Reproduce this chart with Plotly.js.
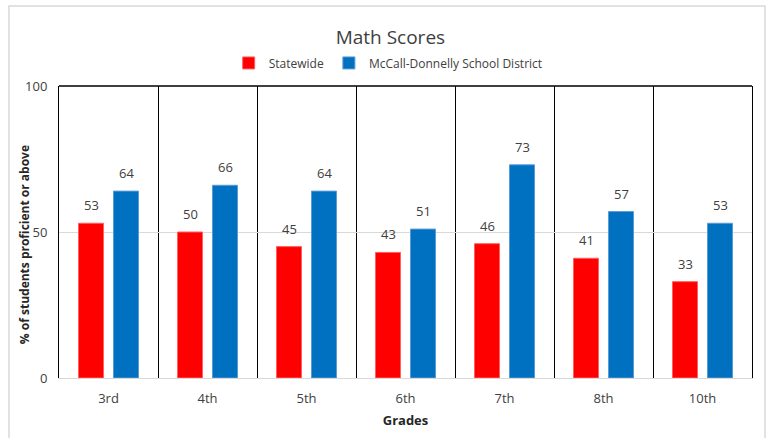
<!DOCTYPE html>
<html>
<head>
<meta charset="utf-8">
<script src="https://cdn.plot.ly/plotly-3.0.1.min.js"></script>
<style>html,body{margin:0;padding:0;background:#fff;}#chart{width:770px;height:438px;}</style>
</head>
<body>
<div id="chart"></div>
<script>
const grades = ["3rd", "4th", "5th", "6th", "7th", "8th", "10th"];
const statewide = [53, 50, 45, 43, 46, 41, 33];
const district = [64, 66, 64, 51, 73, 57, 53];
const seriesNames = ["Statewide", "McCall-Donnelly School District"];
const yTicks = [0, 50, 100];

const FONT = "Open Sans, Noto Sans, sans-serif";

const traces = [
  {
    type: "bar", name: seriesNames[0], x: grades, y: statewide,
    marker: {color: "#FF0000", line: {color: "#FF6060", width: 1}},
    hoverinfo: "none"
  },
  {
    type: "bar", name: seriesNames[1], x: grades, y: district,
    marker: {color: "#0070C0", line: {color: "#5B9BD5", width: 1}},
    hoverinfo: "none"
  }
];

function labels(vals, shift) {
  return grades.map((g, i) => ({
    xref: "x", yref: "y", x: g, y: vals[i], text: String(vals[i]),
    xshift: shift, yshift: 7, yanchor: "bottom", xanchor: "center",
    showarrow: false, font: {family: FONT, size: 13, color: "#404040"}
  }));
}

const layout = {
  width: 770, height: 438,
  margin: {l: 59, r: 18, t: 86, b: 60},
  paper_bgcolor: "#fff", plot_bgcolor: "#fff",
  font: {family: FONT, color: "#404040"},
  title: {text: "Math Scores", font: {family: FONT, size: 19, color: "#404040"},
          x: 0.507, xanchor: "center", y: 0.915, yanchor: "middle"},
  showlegend: true,
  legend: {orientation: "h", x: 0.475, xanchor: "center", y: 1.079, yanchor: "middle",
           font: {family: FONT, size: 12, color: "#404040"}, itemwidth: 30, tracegroupgap: 0,
           traceorder: "normal"},
  bargap: 0.293, bargroupgap: 0.286,
  xaxis: {
    type: "category", range: [-0.5, 6.5], tickson: "boundaries",
    showgrid: true, gridcolor: "#000", gridwidth: 1,
    showline: true, linecolor: "#d9d9d9", linewidth: 1,
    ticks: "", tickfont: {family: FONT, size: 13, color: "#404040"},
    ticklabelstandoff: 8,
    title: {text: "<b>Grades</b>", font: {family: FONT, size: 13, color: "#262626"}, standoff: 10},
    fixedrange: true
  },
  yaxis: {
    range: [0, 100], tickvals: yTicks, ticktext: yTicks.map(String),
    showgrid: true, gridcolor: "#d9d9d9", zeroline: false,
    showline: true, linecolor: "#000", linewidth: 1, mirror: true,
    ticks: "", tickfont: {family: FONT, size: 13, color: "#404040"},
    ticklabelstandoff: 8,
    fixedrange: true
  },
  annotations: [
    {text: "<b>% of students proficient or above</b>", textangle: -90,
     xref: "paper", yref: "paper", x: -0.0505, y: 0.455, xanchor: "center", yanchor: "middle",
     showarrow: false, font: {family: FONT, size: 12, color: "#262626"}}
  ].concat(labels(statewide, -17.5), labels(district, 17.5)),
  shapes: [
    {type: "line", xref: "paper", yref: "paper", x0: 0, x1: 1, y0: 1, y1: 1,
     line: {color: "#000", width: 1.5}},
    {type: "rect", xref: "paper", yref: "paper", x0: -0.0722, x1: 1.0188, y0: -0.3, y1: 1.274,
     line: {color: "#d9d9d9", width: 1.5}, fillcolor: "rgba(0,0,0,0)", layer: "below"}
  ]
};

Plotly.newPlot("chart", traces, layout, {staticPlot: true, displayModeBar: false});
</script>
</body>
</html>
